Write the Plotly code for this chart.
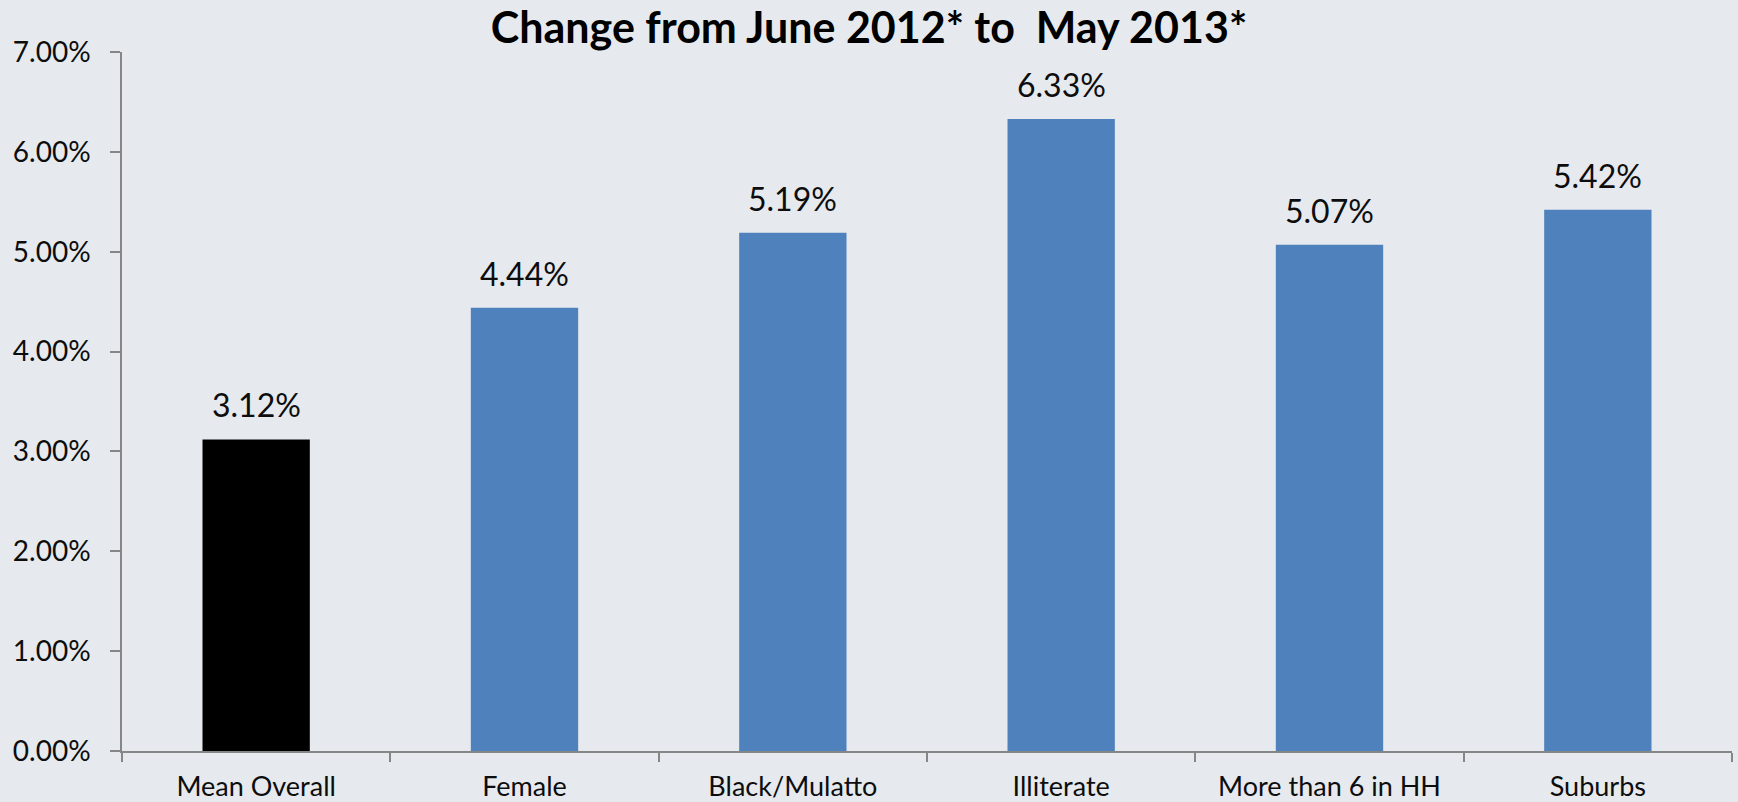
import plotly.graph_objects as go

# Percentage change by group, June 2012 to May 2013
categories = ["Mean Overall", "Female", "Black/Mulatto", "Illiterate", "More than 6 in HH", "Suburbs"]
change_pct = [3.12, 4.44, 5.19, 6.33, 5.07, 5.42]
bar_colors = ["#000000", "#4F81BD", "#4F81BD", "#4F81BD", "#4F81BD", "#4F81BD"]
y_ticks = [0, 1, 2, 3, 4, 5, 6, 7]
y_tick_labels = [f"{t:.2f}%" for t in y_ticks]

FONT = "Lato, 'Open Sans', sans-serif"
TEXT = "#0d0d0d"
AXIS = "#868686"
BG = "#E6EAEE"

fig = go.Figure(
    go.Bar(
        x=categories,
        y=change_pct,
        marker=dict(color=bar_colors, line=dict(width=0)),
        width=0.4,
        hoverinfo="skip",
    )
)

# value labels above each bar
for cat, val in zip(categories, change_pct):
    fig.add_annotation(
        x=cat, y=val, text=f"{val:.2f}%", showarrow=False,
        xref="x", yref="y", yanchor="bottom", yshift=13,
        font=dict(family=FONT, size=32, color=TEXT),
    )

fig.update_layout(
    width=1738, height=802,
    margin=dict(l=122, r=6, t=52, b=51),
    paper_bgcolor=BG, plot_bgcolor=BG,
    showlegend=False,
    title=dict(
        text="<b>Change from June 2012* to  May 2013*</b>",
        x=0.5, xanchor="center", xref="container",
        y=1 - 28 / 802, yanchor="middle", yref="container",
        font=dict(family=FONT, size=43, color="#000000"),
    ),
    xaxis=dict(
        showline=True, linecolor=AXIS, linewidth=1.5,
        ticks="outside", tickson="boundaries", ticklen=9, tickcolor=AXIS, tickwidth=1.5,
        showgrid=False, zeroline=False, ticklabelstandoff=11, automargin=False,
        tickfont=dict(family=FONT, size=27, color=TEXT),
        range=[-0.5, 5.5],
    ),
    yaxis=dict(
        range=[0, 7], tickvals=y_ticks, ticktext=y_tick_labels,
        showline=True, linecolor=AXIS, linewidth=1.5,
        ticks="outside", ticklen=10, tickcolor=AXIS, tickwidth=1.5,
        showgrid=False, zeroline=False, ticklabelstandoff=14, automargin=False,
        tickfont=dict(family=FONT, size=28, color=TEXT),
    ),
)

fig.write_html("out.html")
